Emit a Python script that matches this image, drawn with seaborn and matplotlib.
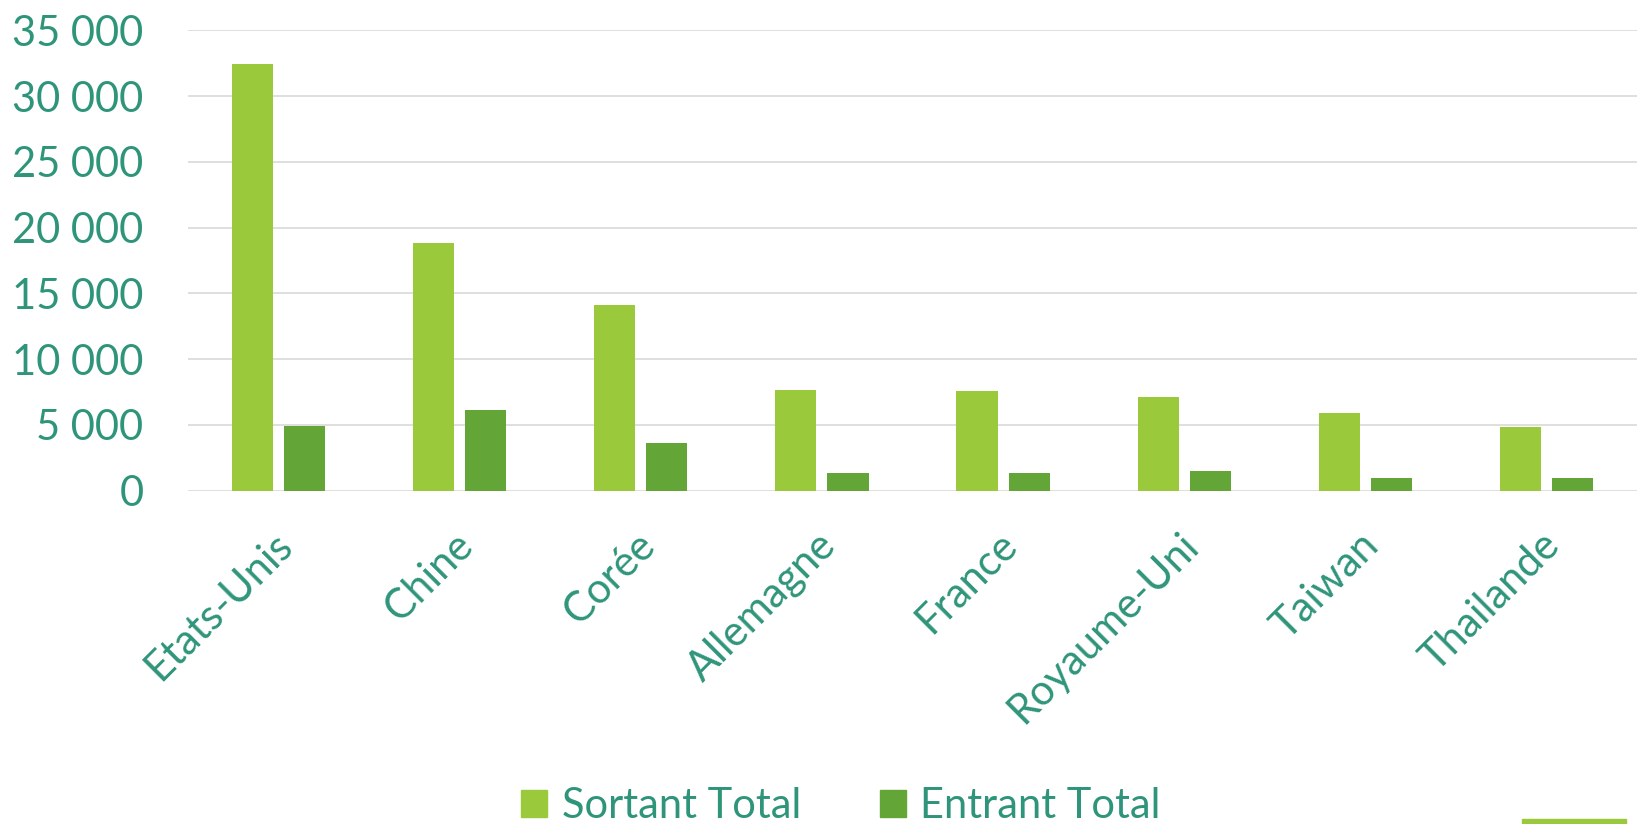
import matplotlib
matplotlib.use("Agg")
import matplotlib.pyplot as plt
import matplotlib.ticker as mticker
import matplotlib.patches as mpatches
import matplotlib.transforms as mtrans
import seaborn as sns
import pandas as pd

countries = ["Etats-Unis", "Chine", "Corée", "Allemagne", "France",
             "Royaume-Uni", "Taiwan", "Thailande"]
sortant = [32450, 18850, 14100, 7650, 7580, 7140, 5870, 4870]
entrant = [4950, 6130, 3600, 1380, 1380, 1530, 1000, 970]
series_names = ["Sortant Total", "Entrant Total"]
y_ticks = [0, 5000, 10000, 15000, 20000, 25000, 30000, 35000]

df = pd.DataFrame({
    "pays": countries * 2,
    "valeur": sortant + entrant,
    "serie": [series_names[0]] * len(countries) + [series_names[1]] * len(countries),
})

sns.set_theme(style="white")
plt.rcParams["font.family"] = ["Lato", "DejaVu Sans"]

TEXT = "#2F957A"
C_SORT = "#9ACA3C"
C_ENT = "#63A537"
FS = 30

fig = plt.figure(figsize=(16.37, 8.24), dpi=100)
ax = fig.add_axes([188 / 1637, 1 - 490.7 / 824, 1 - 188 / 1637, (490.7 - 30.3) / 824])

sns.barplot(data=df, x="pays", y="valeur", hue="serie", order=countries,
            hue_order=series_names, palette=[C_SORT, C_ENT],
            width=0.575, gap=0.21, linewidth=0, saturation=1,
            legend=False, ax=ax)

ax.set_ylim(0, 35000)
ax.set_xlim(-0.5, len(countries) - 0.5)
ax.set_yticks(y_ticks)
ax.yaxis.set_major_formatter(mticker.FuncFormatter(lambda v, p: f"{int(v):,}".replace(",", " ")))
ax.grid(axis="y", color="#D9D9D9", linewidth=1.2)
ax.set_axisbelow(True)
for s in ax.spines.values():
    s.set_visible(False)
ax.set_xlabel("")
ax.set_ylabel("")
ax.tick_params(axis="y", length=0, pad=32, labelsize=FS, labelcolor=TEXT)
ax.tick_params(axis="x", length=0, pad=25, labelsize=FS, labelcolor=TEXT)
offset = mtrans.ScaledTranslation(-6 / 100, 0, fig.dpi_scale_trans)
for lab in ax.get_xticklabels():
    lab.set_rotation(45)
    lab.set_ha("right")
    lab.set_va("top")
    lab.set_rotation_mode("anchor")
    lab.set_transform(lab.get_transform() + offset)

handles = [mpatches.Patch(color=C_SORT, label=series_names[0]),
           mpatches.Patch(color=C_ENT, label=series_names[1])]
fig.legend(handles=handles, loc="center", bbox_to_anchor=(841 / 1637, 1 - 806 / 824),
           ncol=2, frameon=False, fontsize=FS, labelcolor=TEXT,
           handlelength=0.62, handleheight=0.62, handletextpad=0.35, columnspacing=1.9)

fig.patches.append(mpatches.Rectangle((1522 / 1637, 0), 104 / 1637, 5 / 824,
                                      transform=fig.transFigure, color=C_SORT))

fig.savefig("out.png", dpi=100, facecolor="white")
